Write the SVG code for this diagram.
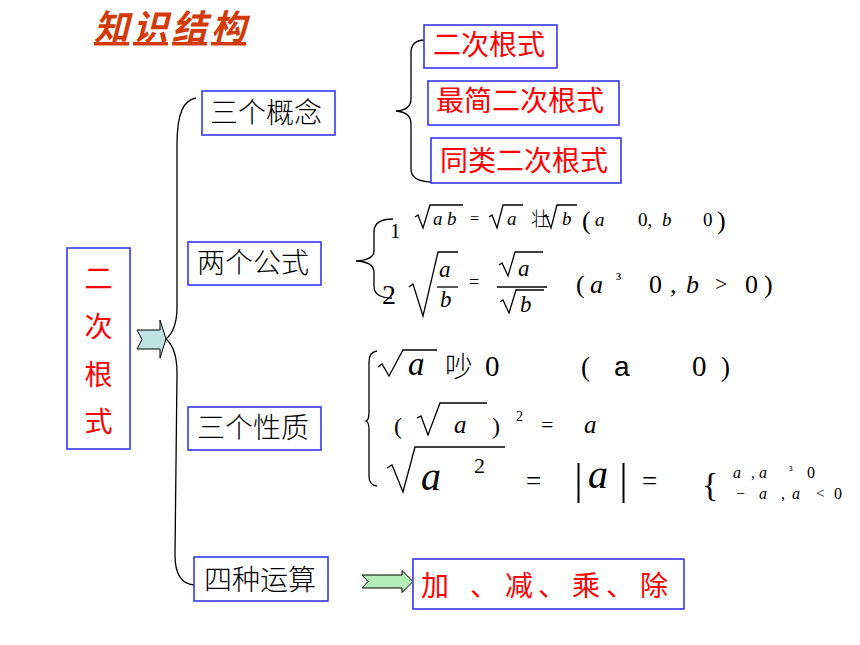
<svg xmlns="http://www.w3.org/2000/svg" width="860" height="645" viewBox="0 0 860 645">
<style>
.box{fill:#fff;stroke:#3535F5;stroke-width:1.6}
.cn{font-family:"Noto Sans CJK SC","Noto Sans",sans-serif;font-size:28px;font-weight:300;fill:#000}
.red{font-family:"Noto Sans CJK SC","Noto Sans",sans-serif;font-size:28px;font-weight:normal;fill:#FF0000}
.m{font-family:"Liberation Serif","Times New Roman",serif;fill:#000}
.i{font-style:italic}
.ln{fill:none;stroke:#000;stroke-width:1.3}
.rad{fill:none;stroke:#000;stroke-width:1.3;stroke-linejoin:miter}
</style>
<rect width="860" height="645" fill="#fff"/>

<g id="title">
<text x="94" y="40" font-family="'Noto Sans CJK SC',sans-serif" font-size="35" font-weight="bold" font-style="italic" fill="#D23A08" text-decoration="underline" textLength="152" lengthAdjust="spacing">知识结构</text>
</g>

<g id="connectors">
<path class="ln" d="M196,98 C184,100 177,112 177,145 L177,307 C177,325 172,334 166,339 C172,344 177,355 177,373 L175,555 C175,575 182,584 194,585"/>
<path class="ln" d="M425,40 Q411,40 411,53 L411,99 Q411,110 396,111 Q411,112 411,124 L411,169 Q411,182 433,182"/>
<polygon points="137,330 160,330 160,320 166,339 160,358 160,349 137,349 142,339.5" fill="#BEE2E2" stroke="#000" stroke-width="1"/>
<polygon points="362,575 402,575 402,570.5 413,581.5 402,592.5 402,588 362,588 368,581.5" fill="#B3EDB7" stroke="#000" stroke-width="1"/>
</g>

<g id="node-root">
<rect class="box" x="67" y="248" width="63" height="201"/>
<text class="red" font-size="41" text-anchor="middle"><tspan x="98.5" y="289">二</tspan><tspan x="98.5" y="337">次</tspan><tspan x="98.5" y="385">根</tspan><tspan x="98.5" y="432">式</tspan></text>
</g>

<g id="node-concepts">
<rect class="box" x="202" y="91" width="133" height="44"/>
<text class="cn" x="210" y="123">三个概念</text>
</g>
<g id="node-formulas">
<rect class="box" x="188" y="242" width="133" height="43"/>
<text class="cn" x="197" y="273">两个公式</text>
</g>
<g id="node-properties">
<rect class="box" x="188" y="407" width="133" height="43"/>
<text class="cn" x="197" y="438">三个性质</text>
</g>
<g id="node-operations">
<rect class="box" x="194" y="557" width="134" height="44"/>
<text class="cn" x="204" y="590">四种运算</text>
</g>

<g id="node-def1">
<rect class="box" x="424" y="25" width="133" height="43"/>
<text class="red" x="433" y="55">二次根式</text>
</g>
<g id="node-def2">
<rect class="box" x="428" y="81" width="191" height="44"/>
<text class="red" x="436" y="111">最简二次根式</text>
</g>
<g id="node-def3">
<rect class="box" x="431" y="138" width="190" height="45"/>
<text class="red" x="440" y="171">同类二次根式</text>
</g>

<g id="node-ops-result">
<rect class="box" x="413" y="559" width="271" height="50"/>
<text class="red" font-size="33" y="596"><tspan x="421">加</tspan><tspan x="470">、</tspan><tspan x="505">减</tspan><tspan x="538">、</tspan><tspan x="572">乘</tspan><tspan x="606">、</tspan><tspan x="640">除</tspan></text>
</g>

<g id="formula-group">
<path class="ln" d="M393,219 Q374,219 374,232 L374,251 Q374,260 356,261 Q374,262 374,272 L374,286 Q374,298 392,298"/>
<!-- row 1 -->
<text class="m" x="390" y="238" font-size="21">1</text>
<path class="rad" d="M415,217 L418,215 L423,228 L430,205 L463,205"/>
<text class="m i" x="433" y="225" font-size="19">a</text>
<text class="m i" x="447" y="225" font-size="19">b</text>
<text class="m" x="470" y="224" font-size="16">=</text>
<path class="rad" d="M489,217 L492,215 L497,228 L503,205 L523,205"/>
<text class="m i" x="507" y="225" font-size="19">a</text>
<text x="531" y="226" font-family="'Noto Sans CJK SC',sans-serif" font-size="19" font-weight="300" fill="#000">壮</text>
<path class="rad" d="M543,217 L546,215 L551,228 L557,205 L577,205"/>
<text class="m i" x="562" y="225" font-size="19">b</text>
<text class="m" x="582" y="229" font-size="26">(</text>
<text class="m i" x="595" y="226" font-size="19">a</text>
<text class="m" x="638" y="226" font-size="19">0,</text>
<text class="m i" x="662" y="226" font-size="19">b</text>
<text class="m" x="703" y="226" font-size="19">0</text>
<text class="m" x="717" y="229" font-size="26">)</text>
<!-- row 2 -->
<text class="m" x="382" y="304" font-size="28">2</text>
<path class="rad" stroke-width="1.5" d="M409,287 L413,284 L423,316 L438,252 L458,252"/>
<text class="m i" x="439" y="277" font-size="23">a</text>
<line class="ln" x1="437" y1="287" x2="458" y2="287"/>
<text class="m i" x="440" y="307" font-size="23">b</text>
<text class="m" x="469" y="288" font-size="18">=</text>
<path class="rad" d="M499,265 L502,263 L508,276 L515,252 L543,252"/>
<text class="m i" x="518" y="276" font-size="23">a</text>
<line class="ln" x1="497" y1="287" x2="547" y2="287"/>
<path class="rad" d="M500,302 L503,300 L509,313 L516,290 L544,290"/>
<text class="m i" x="520" y="312" font-size="23">b</text>
<text class="m" x="576" y="293" font-size="26">(</text>
<text class="m i" x="590" y="293" font-size="26">a</text>
<text class="m" x="616" y="285" font-size="17">³</text>
<text class="m" x="649" y="293" font-size="26">0</text>
<text class="m" x="670" y="293" font-size="26">,</text>
<text class="m i" x="686" y="293" font-size="26">b</text>
<text class="m" x="715" y="291" font-size="22">&gt;</text>
<text class="m" x="745" y="293" font-size="26">0</text>
<text class="m" x="764" y="293" font-size="26">)</text>
</g>

<g id="property-group">
<path class="ln" stroke-width="1" d="M377,351 Q369,352 369,362 L369,412 Q369,420 366,421 Q369,422 369,430 L369,476 Q369,485 377,486"/>
<!-- row 1 -->
<path class="rad" stroke-width="1.6" d="M378,367 L382,364 L389,376 L403,350 L437,350"/>
<text class="m i" x="408" y="375" font-size="33">a</text>
<text x="445" y="377" font-family="'Noto Sans CJK SC',sans-serif" font-size="28" font-weight="300" fill="#000">吵</text>
<text class="m" x="485" y="376" font-size="29">0</text>
<text class="m" x="581" y="376" font-size="27">(</text>
<text x="614" y="376" font-family="'Liberation Sans',Arial,sans-serif" font-size="28" fill="#000">a</text>
<text class="m" x="692" y="376" font-size="29">0</text>
<text class="m" x="721" y="376" font-size="27">)</text>
<!-- row 2 -->
<text class="m" x="394" y="434" font-size="24">(</text>
<path class="rad" stroke-width="1.8" d="M417,418 L421,416 L428,435 L440,403 L487,403"/>
<text class="m i" x="454" y="433" font-size="25">a</text>
<text class="m" x="492" y="434" font-size="24">)</text>
<text class="m" x="516" y="421" font-size="14">2</text>
<text class="m" x="541" y="432" font-size="22">=</text>
<text class="m i" x="584" y="433" font-size="25">a</text>
<!-- row 3 -->
<path class="rad" stroke-width="2.6" d="M387,468 L392,465 L403,492 L415,447 L505,447"/>
<text class="m i" x="421" y="490" font-size="40">a</text>
<text class="m" x="474" y="473" font-size="22">2</text>
<text class="m" x="526" y="490" font-size="27">=</text>
<line x1="578.5" y1="463" x2="578.5" y2="503" stroke="#000" stroke-width="2"/>
<text class="m i" x="588" y="488" font-size="40">a</text>
<line x1="623.5" y1="463" x2="623.5" y2="503" stroke="#000" stroke-width="2"/>
<text class="m" x="642" y="490" font-size="27">=</text>
<text class="m" x="702" y="496" font-size="34">{</text>
<text class="m i" x="733" y="478" font-size="16">a</text>
<text class="m" x="751" y="478" font-size="16">,</text>
<text class="m i" x="759" y="478" font-size="16">a</text>
<text class="m" x="789" y="474" font-size="12">³</text>
<text class="m" x="807" y="478" font-size="16">0</text>
<text class="m" x="736" y="499" font-size="16">−</text>
<text class="m i" x="759" y="499" font-size="16">a</text>
<text class="m" x="781" y="499" font-size="16">,</text>
<text class="m i" x="792" y="499" font-size="16">a</text>
<text class="m" x="816" y="498" font-size="15">&lt;</text>
<text class="m" x="834" y="499" font-size="16">0</text>
</g>
</svg>
